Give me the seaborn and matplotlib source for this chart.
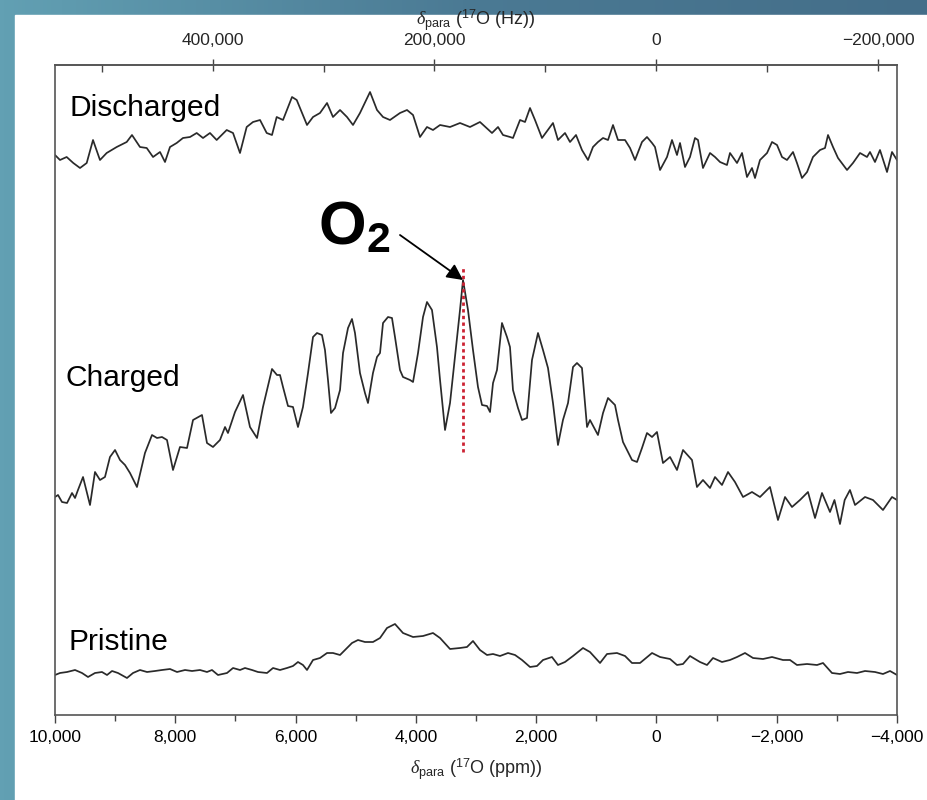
import numpy as np
import pandas as pd
import matplotlib
matplotlib.use("Agg")
import matplotlib.pyplot as plt
import seaborn as sns
from matplotlib.colors import LinearSegmentedColormap
from matplotlib.patches import Rectangle
from matplotlib.ticker import MultipleLocator, FixedLocator, FuncFormatter

# 17O spectra: shift (ppm) and intensity (a.u.)
discharged_ppm = [10000, 9917, 9806, 9696, 9584, 9473, 9368, 9252, 9141, 8974, 8808, 8720, 8587, 8475,
                  8370, 8254, 8171, 8088, 7977, 7872, 7755, 7644, 7539, 7423, 7312, 7145, 7040, 6924,
                  6813, 6708, 6591, 6480, 6392, 6314, 6209, 6059, 5981, 5810, 5710, 5594, 5477, 5378,
                  5261, 5145, 5045, 4929, 4762, 4646, 4546, 4430, 4264, 4147, 4047, 3931, 3815, 3715,
                  3598, 3432, 3266, 3100, 2934, 2734, 2634, 2551, 2434, 2385, 2268, 2185, 2102, 2019,
                  1903, 1770, 1720, 1637, 1520, 1437, 1337, 1238, 1138, 1055, 972, 888, 805, 722,
                  639, 522, 439, 356, 240, 157, 73, 24, -60, -176, -259, -342, -392, -475,
                  -558, -641, -691, -774, -891, -974, -1057, -1173, -1223, -1340, -1423, -1506, -1589, -1639,
                  -1722, -1839, -1922, -2005, -2088, -2171, -2271, -2337, -2420, -2504, -2603, -2720, -2803, -2853,
                  -2936, -3019, -3169, -3268, -3385, -3501, -3551, -3634, -3717, -3834, -3917, -4000]
discharged_int = [25, 20, 23, 17, 12, 17, 40, 20, 27, 33, 38, 45, 33, 32,
                  23, 28, 18, 33, 37, 42, 43, 47, 42, 47, 40, 50, 47, 27,
                  53, 58, 60, 47, 45, 63, 60, 83, 80, 55, 63, 67, 77, 63,
                  70, 63, 55, 67, 88, 70, 63, 60, 67, 70, 65, 43, 53, 50,
                  55, 53, 57, 53, 58, 47, 53, 45, 43, 42, 60, 58, 72, 60,
                  42, 53, 57, 40, 47, 38, 45, 30, 20, 33, 38, 42, 40, 55,
                  40, 40, 32, 20, 38, 43, 37, 33, 10, 23, 40, 25, 37, 13,
                  23, 42, 40, 12, 27, 23, 18, 15, 27, 17, 27, 3, 12, 2,
                  20, 27, 38, 35, 23, 20, 28, 17, 2, 8, 23, 30, 32, 45,
                  33, 22, 10, 17, 27, 23, 28, 18, 30, 8, 28, 20]

charged_ppm = [10000, 9950, 9884, 9800, 9717, 9667, 9618, 9534, 9418, 9335, 9252, 9169, 9086, 9002,
               8919, 8836, 8753, 8637, 8504, 8387, 8304, 8221, 8138, 8038, 7922, 7805, 7705, 7556,
               7473, 7373, 7257, 7173, 7124, 7007, 6874, 6758,
               6641, 6542, 6392, 6309, 6259, 6209, 6126, 6043, 5960, 5877, 5793, 5710, 5644, 5561,
               5511, 5461, 5411, 5344, 5261, 5211, 5128, 5062, 5012, 4929, 4846, 4796, 4713, 4646,
               4596, 4546, 4463, 4397, 4347, 4264, 4214, 4097, 4047, 3964, 3881, 3815, 3732, 3649,
               3598, 3515, 3432, 3349, 3266, 3216, 3133, 3050, 2967, 2900, 2817, 2767, 2717, 2651,
               2568, 2485, 2435, 2385, 2302, 2235, 2152, 2069, 1969, 1886, 1803, 1720, 1637, 1554,
               1470, 1387, 1321, 1238, 1154, 1105, 972, 888, 805, 689, 639, 556, 406, 323,
               240, 157, 73, -9,
               -109, -226, -342, -442, -591, -674, -774, -891, -974, -1090, -1190, -1306, -1440, -1589,
               -1722, -1888, -2021, -2138, -2254, -2387, -2520, -2637, -2753, -2886, -2960, -3052, -3130, -3218,
               -3302, -3468, -3601, -3767, -3917, -4000]
charged_int = [33, 35, 28, 27, 37, 32, 40, 53, 25, 58, 50, 53, 73, 80,
               70, 65, 57, 43, 77, 95, 92, 93, 90, 60, 83, 82, 110, 115,
               87, 83, 90, 103, 97, 118, 135, 103,
               92, 123, 161, 155, 155, 143, 124, 123, 103, 123, 157, 193, 197, 195,
               180, 150, 117, 122, 140, 177, 202, 211, 197, 157, 137, 127, 157, 173,
               177, 207, 213, 212, 193, 160, 153, 150, 148, 177, 213, 228, 220, 183,
               150, 100, 127, 173, 220, 250, 220, 180, 143, 125, 124, 118, 147, 160,
               207, 193, 183, 140, 122, 110, 112, 170, 197, 180, 162, 127, 85, 110,
               127, 163, 167, 162, 103, 110, 95, 117, 132, 125, 110, 88, 70, 68,
               82, 97, 93, 98,
               67, 73, 60, 80, 70, 43, 50, 42, 53, 45, 58, 48, 33, 38,
               33, 43, 10, 33, 23, 30, 38, 12, 37, 18, 30, 6, 30, 40,
               25, 33, 30, 20, 33, 30]

pristine_ppm = [10000, 9917, 9800, 9667, 9551, 9451, 9335, 9219, 9135, 9052, 8953, 8803, 8703, 8587,
                8470, 8337, 8221, 8088, 7971, 7838, 7722, 7589, 7473, 7390, 7290, 7140, 7040, 6924,
                6841, 6724, 6625, 6475, 6375, 6259, 6143, 6043, 5960, 5877, 5810, 5710, 5594, 5477,
                5378, 5261, 5178, 5062, 4962, 4846, 4713, 4596, 4480, 4347, 4214, 4047, 3881, 3715,
                3598, 3432, 3266, 3150, 3050, 2934, 2817, 2717, 2601, 2468, 2351, 2235, 2102, 1986,
                1886, 1737, 1637, 1520, 1387, 1221, 1105, 938, 822, 656, 522, 406, 273, 73,
                -60, -226, -342, -442, -558, -724, -841, -941, -1090, -1223, -1340, -1473, -1606, -1772,
                -1922, -2104, -2221, -2337, -2504, -2670, -2770, -2919, -3052, -3185, -3335, -3468, -3634, -3767,
                -3884, -4000]
pristine_int = [5, 7, 8, 10, 7, 3, 7, 8, 5, 9, 7, 2, 7, 10,
                8, 9, 10, 11, 8, 10, 9, 10, 8, 10, 5, 7, 12, 10,
                12, 10, 8, 7, 12, 10, 12, 14, 18, 15, 10, 20, 22, 27,
                27, 25, 30, 37, 40, 38, 38, 42, 52, 56, 47, 43, 44, 47,
                42, 31, 32, 33, 39, 30, 25, 26, 24, 27, 25, 20, 13, 14,
                20, 23, 15, 18, 24, 32, 28, 17, 26, 27, 24, 17, 17, 27,
                23, 21, 15, 16, 24, 18, 15, 22, 18, 20, 23, 27, 22, 21,
                23, 20, 20, 15, 16, 15, 17, 7, 6, 8, 7, 9, 8, 6,
                9, 5]

samples = ["Discharged", "Charged", "Pristine"]
offsets = {"Discharged": 535, "Charged": 185, "Pristine": 35}
label_pos = {"Discharged": (9760, 599), "Charged": (9820, 329), "Pristine": (9770, 65)}

ppm_ticks = [10000, 8000, 6000, 4000, 2000, 0, -2000, -4000]
hz_ticks = [400000, 200000, 0, -200000]
hz_minor = [500000, 300000, 100000, -100000]

O2_PPM = 3216
HZ_PER_PPM = 54.2  # 17O Larmor frequency (MHz) -> Hz per ppm

frames = []
for name, ppm, inten in [("Discharged", discharged_ppm, discharged_int),
                         ("Charged", charged_ppm, charged_int),
                         ("Pristine", pristine_ppm, pristine_int)]:
    d = pd.DataFrame({"ppm": ppm, "intensity": inten})
    d["sample"] = name
    d["y"] = d["intensity"] + offsets[name]
    frames.append(d)
df = pd.concat(frames, ignore_index=True)

sns.set_theme(style="white")
plt.rcParams["font.family"] = ["Liberation Sans", "DejaVu Sans"]
plt.rcParams["mathtext.fontset"] = "custom"
plt.rcParams["mathtext.rm"] = "Liberation Sans"
plt.rcParams["mathtext.it"] = "Liberation Serif:italic"
plt.rcParams["mathtext.bf"] = "Liberation Sans:bold"

fig = plt.figure(figsize=(9.27, 8.0), dpi=100)

# slide background: blue gradient strip on top and left, white panel
bg = fig.add_axes([0, 0, 1, 1], zorder=-5)
cmap = LinearSegmentedColormap.from_list("slide", ["#62a0b3", "#4b7a94", "#446e89"])
bg.imshow(np.linspace(0, 1, 256).reshape(1, -1), extent=[0, 1, 0, 1], aspect="auto", cmap=cmap)
bg.add_patch(Rectangle((15 / 927, 0), 1, 785 / 800, color="white"))
bg.set_xlim(0, 1)
bg.set_ylim(0, 1)
bg.axis("off")

ax = fig.add_axes([55 / 927, 85 / 800, 842 / 927, 650 / 800])
ax.set_facecolor("white")

sns.lineplot(data=df, x="ppm", y="y", units="sample", estimator=None, sort=False,
             color="#2a2a2a", linewidth=1.25, ax=ax, legend=False)

for name in samples:
    px, py = label_pos[name]
    ax.text(px, py, name, fontsize=21.5, color="black", ha="left", va="baseline")

# O2 marker
ax.axvline(O2_PPM, ymin=263 / 650, ymax=447 / 650, color="#cc2233",
           linestyle=(0, (1.2, 1.2)), linewidth=2.0)
peak_y = charged_int[charged_ppm.index(O2_PPM)] + offsets["Charged"]
ax.annotate("", xy=(O2_PPM, peak_y), xytext=(4264, 480),
            arrowprops=dict(arrowstyle="-|>", color="black", lw=1.3,
                            mutation_scale=24, shrinkA=0, shrinkB=0))
ax.text(5627, 470, r"$\mathbf{O}_{\mathbf{2}}$", fontsize=44, color="black",
        ha="left", va="baseline")

ax.set_xlim(10000, -4000)
ax.set_ylim(0, 650)
ax.set_yticks([])
ax.set_ylabel("")

fmt = FuncFormatter(lambda v, p: f"{v:,.0f}".replace("-", "\u2212"))
ax.xaxis.set_major_locator(FixedLocator(ppm_ticks))
ax.xaxis.set_minor_locator(MultipleLocator(1000))
ax.xaxis.set_major_formatter(fmt)
ax.tick_params(axis="x", which="major", direction="out", length=6, width=1.0,
               color="#444", labelsize=12.5, pad=5, bottom=True, labelcolor="black")
ax.tick_params(axis="x", which="minor", direction="out", length=4, width=1.0,
               color="#444", bottom=True)
ax.set_xlabel(r"$\delta_{\mathrm{para}}$ ($^{17}$O (ppm))", fontsize=13, labelpad=8)

sec = ax.secondary_xaxis("top", functions=(lambda p: p * HZ_PER_PPM, lambda h: h / HZ_PER_PPM))
sec.xaxis.set_major_locator(FixedLocator(hz_ticks))
sec.xaxis.set_minor_locator(FixedLocator(hz_minor))
sec.xaxis.set_major_formatter(fmt)
sec.tick_params(axis="x", which="major", direction="inout", length=8, width=1.0,
                color="#444", labelsize=12.5, pad=8)
sec.tick_params(axis="x", which="minor", direction="in", length=5, width=1.0, color="#444")
sec.set_xlabel(r"$\delta_{\mathrm{para}}$ ($^{17}$O (Hz))", fontsize=13, labelpad=6)

for s in ["left", "right", "bottom", "top"]:
    ax.spines[s].set_visible(True)
    ax.spines[s].set_color("#555")
    ax.spines[s].set_linewidth(1.2)
sec.spines["top"].set_color("#555")
sec.spines["top"].set_linewidth(1.2)

fig.savefig("out.png", dpi=100)
